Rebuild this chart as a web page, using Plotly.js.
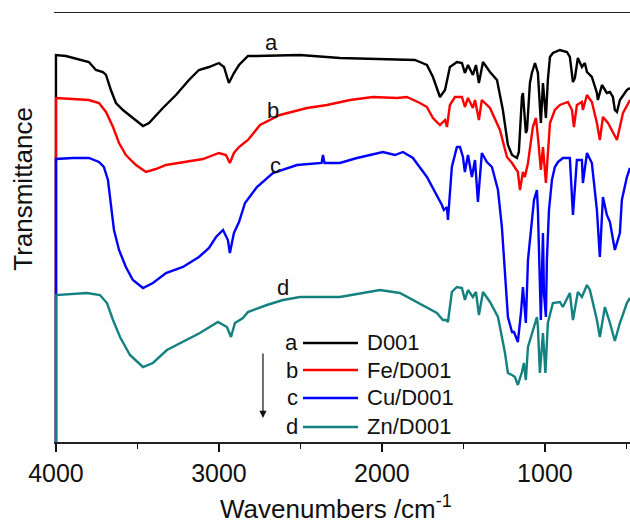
<!DOCTYPE html>
<html>
<head>
<meta charset="utf-8">
<script src="https://cdn.plot.ly/plotly-3.0.1.min.js"></script>
<style>
  html, body { margin: 0; padding: 0; background: #fff; overflow: hidden; }
  #chart { width: 630px; height: 524px; }
</style>
</head>
<body>
<div id="chart"></div>
<script>
// ---- Data: [wavenumber (cm^-1), transmittance (a.u., offset spectra)] ----
const seriesA = [
  [4000,0],[4000,38.7],[3939,38.6],[3853,38.2],[3798,38.0],[3755,37.2],[3712,37.0],[3693,36.7],[3663,35.2],[3632,33.9],
  [3589,33.2],[3528,32.4],[3466,31.6],[3429,31.9],[3344,33.4],[3264,34.7],[3184,36.2],[3123,37.2],[3061,37.5],[3000,37.9],
  [2969,37.5],[2939,35.9],[2908,36.9],[2877,37.7],[2822,38.6],[2773,38.6],[2503,38.7],[2258,38.4],[1994,38.3],[1890,38.3],
  [1798,38.2],[1767,38.0],[1724,37.7],[1687,36.5],[1644,34.5],[1613,35.2],[1583,37.5],[1540,38.0],[1509,37.9],[1491,36.9],
  [1472,37.7],[1442,36.7],[1423,37.7],[1405,35.9],[1380,38.0],[1337,37.0],[1294,36.2],[1258,33.2],[1227,29.7],[1202,28.7],
  [1172,28.4],[1160,29.0],[1141,34.5],[1135,34.9],[1117,30.9],[1110,31.2],[1092,35.9],[1080,36.9],[1061,37.9],[1043,36.9],
  [1031,34.2],[1025,31.9],[1012,35.9],[994,32.4],[982,36.2],[969,38.5],[951,38.9],[908,39.2],[865,39.0],[847,38.5],
  [828,36.0],[816,36.4],[798,38.4],[773,37.5],[755,37.9],[742,37.0],[712,36.5],[681,34.9],[675,34.2],[650,35.7],
  [620,34.9],[601,35.0],[583,34.5],[571,33.2],[558,33.0],[540,34.2],[497,35.2],[478,35.4]
];
const seriesB = [
  [4000,0],[4000,34.4],[3896,34.3],[3798,34.2],[3736,33.9],[3693,33.0],[3650,31.5],[3613,29.9],[3571,28.7],[3509,27.7],
  [3448,27.0],[3387,27.3],[3325,27.7],[3221,28.0],[3098,28.3],[3000,28.9],[2957,28.7],[2933,27.9],[2908,28.9],[2877,29.5],
  [2822,30.2],[2748,31.7],[2626,32.7],[2460,33.4],[2337,33.7],[2196,34.2],[2055,34.5],[1908,34.4],[1847,34.5],[1767,33.9],
  [1724,33.5],[1687,32.4],[1644,31.7],[1613,32.2],[1601,31.5],[1583,33.7],[1552,34.5],[1509,34.5],[1491,33.5],[1472,34.4],
  [1442,33.4],[1429,34.2],[1405,32.2],[1387,34.2],[1337,33.4],[1276,31.2],[1233,28.5],[1202,27.9],[1166,27.0],[1153,25.2],
  [1135,27.0],[1123,26.5],[1104,27.9],[1074,31.5],[1055,32.4],[1043,30.5],[1025,27.2],[1012,29.5],[994,25.9],[969,31.9],
  [939,33.2],[908,33.7],[859,34.0],[834,33.2],[822,31.5],[804,33.7],[773,34.0],[767,33.2],[742,34.7],[712,34.0],
  [681,31.9],[663,30.2],[644,32.5],[613,31.9],[589,31.2],[558,30.2],[521,32.9],[478,34.2]
];
const seriesC = [
  [4000,0],[4000,28.3],[3896,28.4],[3798,28.4],[3736,28.0],[3706,27.5],[3681,26.2],[3663,23.5],[3644,21.2],[3613,19.2],
  [3571,17.5],[3528,16.2],[3466,15.4],[3405,15.9],[3325,16.9],[3221,17.5],[3123,18.5],[3061,19.4],[3018,20.5],[2975,21.2],
  [2945,20.2],[2933,18.9],[2908,20.9],[2877,22.0],[2840,23.9],[2767,25.5],[2669,26.9],[2521,27.7],[2370,27.9],[2362,28.7],
  [2352,27.9],[2258,27.9],[2153,28.4],[1994,29.0],[1920,28.7],[1871,29.0],[1810,28.4],[1724,26.5],[1663,24.7],[1632,23.7],
  [1620,23.2],[1601,23.5],[1595,22.2],[1571,27.5],[1540,29.5],[1521,29.5],[1503,28.5],[1491,27.0],[1472,28.7],[1448,26.5],
  [1429,28.2],[1411,24.0],[1387,28.9],[1356,28.0],[1325,27.5],[1288,25.2],[1264,21.5],[1245,17.2],[1227,12.5],[1202,11.0],
  [1190,11.0],[1166,10.0],[1147,12.9],[1135,15.5],[1117,11.9],[1104,18.2],[1086,21.2],[1067,24.2],[1049,25.2],[1043,23.2],
  [1025,12.2],[1012,20.9],[1006,14.9],[994,12.5],[988,18.2],[975,23.2],[957,26.2],[939,27.5],[920,28.0],[890,28.4],
  [847,28.4],[828,22.7],[804,28.2],[773,28.2],[767,25.9],[742,28.9],[712,27.9],[681,23.2],[663,18.5],[644,24.5],
  [620,22.7],[601,22.0],[571,19.2],[540,20.9],[528,24.2],[497,26.5],[478,27.4]
];
const seriesD = [
  [4000,0],[4000,14.7],[3810,14.9],[3730,14.7],[3687,13.9],[3650,12.2],[3607,10.5],[3546,8.7],[3466,7.5],[3405,7.9],
  [3319,9.2],[3221,10.0],[3117,10.9],[3037,11.7],[3006,12.0],[2951,11.5],[2926,10.5],[2902,11.9],[2853,12.4],[2822,13.0],
  [2706,13.7],[2607,14.2],[2503,14.5],[2258,14.5],[2012,15.2],[1890,14.9],[1748,13.7],[1663,12.9],[1626,12.2],[1607,12.2],
  [1595,12.0],[1571,15.0],[1540,15.5],[1509,15.4],[1491,14.2],[1472,15.2],[1442,14.5],[1423,15.0],[1405,12.7],[1380,15.0],
  [1337,14.0],[1288,12.5],[1245,8.9],[1227,6.9],[1202,6.7],[1184,6.5],[1166,5.7],[1141,7.0],[1129,7.9],[1117,6.2],
  [1104,9.5],[1080,10.9],[1049,12.5],[1043,11.5],[1031,6.9],[1012,10.9],[997,6.9],[982,11.9],[951,13.9],[908,14.0],
  [890,13.5],[847,14.9],[828,12.2],[798,15.0],[773,14.5],[742,15.7],[724,15.2],[681,12.2],[663,10.5],[632,13.5],
  [601,11.9],[571,10.1],[540,11.9],[497,13.9],[478,14.4]
];

const seriesData   = [seriesA, seriesB, seriesC, seriesD];
const seriesNames  = ['D001', 'Fe/D001', 'Cu/D001', 'Zn/D001'];
const seriesLetters = ['a', 'b', 'c', 'd'];
const seriesColors = ['#000000', '#ff0000', '#0000ff', '#148080'];
// curve label anchor points (wavenumber, value)
const labelX = [2675, 2669, 2656, 2607];
const labelY = [40.0, 33.2, 27.7, 15.5];
const tickValues = [4000, 3000, 2000, 1000];
const minorTickValues = [3500, 2500, 1500, 500];

const FONT = 'Arial, "Liberation Sans", Helvetica, sans-serif';

const traces = seriesData.map((s, i) => ({
  type: 'scatter',
  mode: 'lines',
  x: s.map(p => p[0]),
  y: s.map(p => p[1]),
  name: seriesNames[i],
  line: { color: seriesColors[i], width: 2.4 },
  showlegend: false,
  hoverinfo: 'skip'
}));

// custom legend (letter, line sample, name)
const rowY = [0.2308, 0.1678, 0.1026, 0.0350];
const annotations = [];
const shapes = [];
seriesNames.forEach((n, i) => {
  annotations.push({
    xref: 'paper', yref: 'paper', x: 0.4271, y: rowY[i], xanchor: 'right', yanchor: 'middle',
    text: seriesLetters[i], showarrow: false, font: { family: FONT, size: 22, color: '#111' }
  });
  annotations.push({
    xref: 'paper', yref: 'paper', x: 0.5399, y: rowY[i], xanchor: 'left', yanchor: 'middle',
    text: n, showarrow: false, font: { family: FONT, size: 22, color: '#111' }
  });
  shapes.push({
    type: 'line', xref: 'paper', yref: 'paper', x0: 0.4323, x1: 0.5278, y0: rowY[i], y1: rowY[i],
    line: { color: seriesColors[i], width: 2.5 }
  });
  // curve letters
  annotations.push({
    xref: 'x', yref: 'y', x: labelX[i], y: labelY[i], xanchor: 'center', yanchor: 'middle',
    text: seriesLetters[i], showarrow: false, font: { family: FONT, size: 22, color: '#111' }
  });
});
// downward arrow
annotations.push({
  xref: 'paper', yref: 'paper', x: 0.3628, y: 0.0559, text: ' ', showarrow: true,
  ax: 0, ay: -73, arrowhead: 2, arrowsize: 1.2, arrowwidth: 1.2, arrowcolor: '#111', standoff: 0
});
// y title
annotations.push({
  xref: 'paper', yref: 'paper', x: -0.054, y: 0.59, xanchor: 'center', yanchor: 'middle',
  text: 'Transmittance', textangle: -90, showarrow: false, font: { family: FONT, size: 26, color: '#111' }
});
// x title
annotations.push({
  xref: 'paper', yref: 'paper', x: 0.49, y: -0.153, xanchor: 'center', yanchor: 'middle',
  text: 'Wavenumbers /cm<sup>-1</sup>', showarrow: false, font: { family: FONT, size: 26, color: '#111' }
});

const layout = {
  width: 630, height: 524,
  margin: { l: 54, r: 0, t: 13, b: 82 },
  paper_bgcolor: '#ffffff', plot_bgcolor: '#ffffff',
  showlegend: false,
  font: { family: FONT, color: '#111' },
  xaxis: {
    range: [4012, 478],
    tickmode: 'array', tickvals: tickValues, ticktext: tickValues.map(String),
    ticks: 'outside', ticklen: 8, tickwidth: 1.5, tickcolor: '#111',
    minor: { tickmode: 'array', tickvals: minorTickValues, ticks: 'outside', ticklen: 5, tickwidth: 1.5, tickcolor: '#111' },
    showline: true, linecolor: '#222', linewidth: 1.5, mirror: true,
    showgrid: false, zeroline: false,
    tickfont: { family: FONT, size: 25, color: '#111' }
  },
  yaxis: {
    range: [0, 42.9],
    showticklabels: false, ticks: '', showgrid: false, zeroline: false, showline: false
  },
  annotations: annotations,
  shapes: shapes
};

Plotly.newPlot('chart', traces, layout, { staticPlot: true, displayModeBar: false });
</script>
</body>
</html>
